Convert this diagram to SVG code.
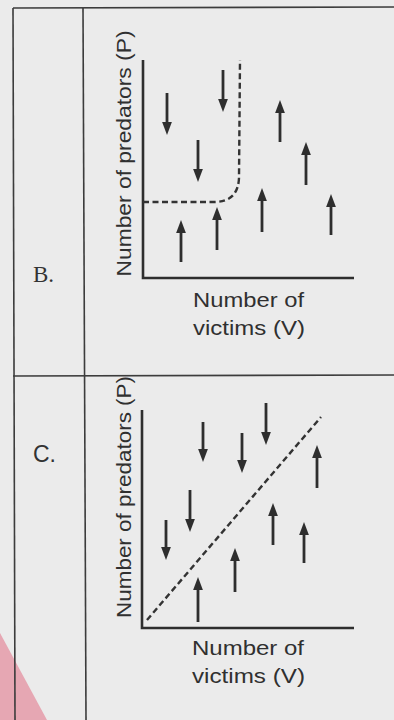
<svg xmlns="http://www.w3.org/2000/svg" width="394" height="720" viewBox="0 0 394 720">
  <style>
    .grid { stroke: #3c3c3c; stroke-width: 1.6; fill: none; }
    .axis { stroke: #2e2e2e; stroke-width: 2.6; fill: none; }
    .dash { stroke: #333; stroke-width: 2.4; fill: none; stroke-dasharray: 6 3.5; }
    .arr { stroke: #2e2e2e; stroke-width: 2.8; fill: none; marker-end: url(#head); }
    .lab { font-family: "Liberation Sans", Arial, sans-serif; font-size: 21px; fill: #303030; }
    .row { font-size: 23px; fill: #333; }
  </style>
  <defs>
    <marker id="head" viewBox="0 0 13 11" refX="4" refY="5.5" markerWidth="13" markerHeight="11" markerUnits="userSpaceOnUse" orient="auto">
      <path d="M0,0.6 L13,5.5 L0,10.4 Z" fill="#2e2e2e"/>
    </marker>
  </defs>

  <rect x="0" y="0" width="394" height="720" fill="#ebebeb"/>
  <polygon points="0,633 47,720 0,720" fill="#e6a7b3"/>

  <g id="table">
    <line class="grid" x1="13" y1="8" x2="394" y2="7"/>
    <line class="grid" x1="13" y1="8" x2="15" y2="720"/>
    <line class="grid" x1="83" y1="8" x2="86" y2="720"/>
    <line class="grid" x1="13" y1="376" x2="394" y2="375"/>
  </g>

  <g id="row-B">
    <text class="row" x="33" y="282" font-family="'Liberation Serif', 'Times New Roman', serif">B.</text>
  </g>

  <g id="row-C">
    <text class="row" x="33" y="462" font-family="'Liberation Sans', Arial, sans-serif" font-size="22">C.</text>
  </g>

  <g id="chart-B">
    <polyline class="axis" points="143,60 143,278 354,278"/>
    <path class="dash" d="M143,202 L214,202 Q238,202 239,178 L240,60"/>
    <text class="lab" transform="translate(131,153.5) rotate(-90)" text-anchor="middle" textLength="246" lengthAdjust="spacingAndGlyphs">Number of predators (P)</text>
    <text class="lab" x="193" y="307" textLength="111" lengthAdjust="spacingAndGlyphs">Number of</text>
    <text class="lab" x="193" y="335" textLength="112" lengthAdjust="spacingAndGlyphs">victims (V)</text>
  </g>

  <g id="chart-C">
    <polyline class="axis" points="142,410 142,628 354,628"/>
    <line class="dash" x1="147" y1="620" x2="321" y2="417"/>
    <text class="lab" transform="translate(131,497) rotate(-90)" text-anchor="middle" textLength="242" lengthAdjust="spacingAndGlyphs">Number of predators (P)</text>
    <text class="lab" x="192" y="655" textLength="112" lengthAdjust="spacingAndGlyphs">Number of</text>
    <text class="lab" x="192" y="683" textLength="113" lengthAdjust="spacingAndGlyphs">victims (V)</text>
  </g>

  <g id="connectors">
    <!-- B down -->
    <line class="arr" x1="167" y1="93" x2="167" y2="126"/>
    <line class="arr" x1="223" y1="70" x2="223" y2="103"/>
    <line class="arr" x1="198" y1="140" x2="198" y2="173"/>
    <!-- B up -->
    <line class="arr" x1="181" y1="262" x2="181" y2="229"/>
    <line class="arr" x1="217" y1="250" x2="217" y2="216"/>
    <line class="arr" x1="262" y1="232" x2="262" y2="197"/>
    <line class="arr" x1="280" y1="142" x2="280" y2="109"/>
    <line class="arr" x1="306" y1="185" x2="306" y2="151"/>
    <line class="arr" x1="331" y1="235" x2="331" y2="203"/>
    <!-- C down -->
    <line class="arr" x1="203" y1="422" x2="203" y2="453"/>
    <line class="arr" x1="242" y1="433" x2="242" y2="464"/>
    <line class="arr" x1="266" y1="403" x2="266" y2="436"/>
    <line class="arr" x1="190" y1="490" x2="190" y2="523"/>
    <line class="arr" x1="166" y1="520" x2="166" y2="551"/>
    <!-- C up -->
    <line class="arr" x1="317" y1="488" x2="317" y2="454"/>
    <line class="arr" x1="273" y1="545" x2="273" y2="512"/>
    <line class="arr" x1="304" y1="563" x2="304" y2="531"/>
    <line class="arr" x1="235" y1="592" x2="235" y2="557"/>
    <line class="arr" x1="198" y1="622" x2="198" y2="586"/>
  </g>
</svg>
